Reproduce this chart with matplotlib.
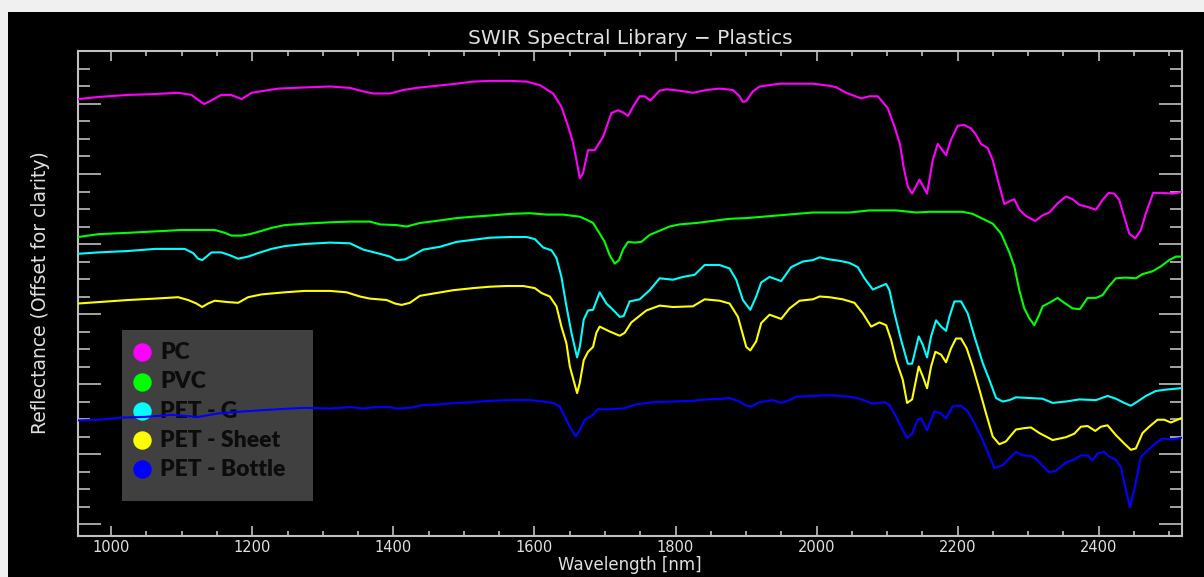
import numpy as np
import matplotlib.pyplot as plt
from matplotlib.patches import Rectangle
from matplotlib.ticker import MultipleLocator

# spectra (wavelength nm, reflectance with offset)
pc_wl = [953.3, 981.6, 1024, 1057, 1095, 1114, 1123, 1132, 1142, 1156, 1170, 1185, 1199, 1218, 1237,
         1260, 1284, 1310, 1338.5, 1357.4, 1371.6, 1395.2, 1414.1, 1433, 1461.3, 1489.6, 1513.2,
         1536.8, 1565.2, 1588.8, 1607.7, 1626.5, 1638.3, 1647.8, 1654.9, 1659.6, 1664.3, 1668.9,
         1676, 1685.4, 1697.3, 1709.1, 1718.5, 1725.6, 1732.7, 1739.7, 1749.2, 1756.3, 1764.3,
         1777.5, 1787, 1805.8, 1824.7, 1843.6, 1862.5, 1881.4, 1890.8, 1895.5, 1900.3, 1909.7,
         1919.2, 1947.5, 1971.1, 1994.7, 2018.3, 2027.7, 2041.9, 2063.2, 2075, 2086.8, 2100.9,
         2110.4, 2118.4, 2123.1, 2129.3, 2135.4, 2145.8, 2156.6, 2164.7, 2171.7, 2183.5, 2190.6,
         2200.1, 2209.5, 2219, 2226, 2233.1, 2242.6, 2249.7, 2256.7, 2266.2, 2273.3, 2280.3,
         2287.4, 2296.8, 2310, 2320.4, 2329.9, 2341.7, 2353.5, 2362.9, 2372.4, 2384.2, 2396,
         2405.4, 2413.9, 2421.9, 2429, 2436.1, 2443.2, 2451.7, 2459.7, 2466.8, 2477.2, 2490.4,
         2504.5, 2516.4]
pc_val = [60.7, 61.0, 61.3, 61.4, 61.6, 61.3, 60.6, 60.0, 60.5, 61.3, 61.3, 60.7, 61.6, 61.9, 62.2,
          62.3, 62.4, 62.5, 62.3, 61.8, 61.5, 61.5, 62.0, 62.3, 62.6, 62.9, 63.2,
          63.3, 63.3, 63.2, 62.7, 61.5, 59.6, 56.8, 54.4, 52.0, 49.4, 50.1,
          53.4, 53.4, 55.3, 58.7, 59.1, 58.8, 58.3, 59.6, 61.1, 61.1, 60.5,
          61.9, 62.1, 61.9, 61.6, 62.0, 62.2, 62.0, 61.1, 60.3, 60.4, 61.8,
          62.5, 62.9, 62.9, 62.9, 62.6, 62.4, 61.6, 60.8, 61.1, 61.1, 59.4,
          56.8, 54.2, 51.1, 48.2, 47.2, 49.2, 47.2, 52.0, 54.3, 52.7, 54.9,
          56.9, 57.0, 56.5, 55.6, 54.3, 53.7, 52.0, 49.2, 45.7, 46.1, 46.4,
          44.9, 44.0, 43.3, 44.1, 44.5, 45.8, 46.8, 46.4, 45.6, 45.3, 44.9,
          46.3, 47.3, 47.2, 46.3, 43.9, 41.5, 40.8, 42.0, 44.4, 47.3, 47.3,
          47.2, 47.4]

pvc_wl = [953.3, 981.6, 1024.1, 1061.9, 1099.7, 1146.9, 1161.1, 1170.5, 1184.7, 1196.5, 1210.6,
          1227.2, 1246, 1274.4, 1310.2, 1338.5, 1366.9, 1381, 1404.6, 1418.8, 1437.7, 1461.3,
          1489.6, 1513.2, 1541.5, 1565.2, 1593.5, 1617.1, 1640.7, 1664.2, 1673.6, 1683.1, 1692.5,
          1699.6, 1706.7, 1713.8, 1719.9, 1725.6, 1732.7, 1742.1, 1751.5, 1763.4, 1777.5, 1791.7,
          1805.8, 1829.5, 1853.1, 1876.7, 1900.3, 1923.9, 1947.5, 1971.1, 1994.7, 2018.3, 2046.6,
          2075, 2112.7, 2141.1, 2160, 2178.8, 2207.2, 2221.3, 2235.5, 2249.7, 2261.5, 2273.3,
          2280.3, 2287.4, 2294.4, 2301.5, 2308.6, 2315.7, 2320.4, 2329.9, 2341.7, 2351.1, 2362.9,
          2373.3, 2384.2, 2396, 2405.4, 2413.9, 2424.3, 2438.5, 2452.6, 2462.1, 2476.2, 2488,
          2499.8, 2509.3, 2516.4]
pvc_val = [41.0, 41.4, 41.6, 41.8, 42.0, 42.0, 41.6, 41.2, 41.2, 41.4, 41.8,
           42.3, 42.7, 42.9, 43.1, 43.2, 43.2, 42.8, 42.7, 42.5, 43.0, 43.3,
           43.7, 43.9, 44.1, 44.3, 44.4, 44.2, 44.2, 43.9, 43.5, 43.0, 41.5,
           40.3, 38.4, 37.2, 37.7, 39.2, 40.3, 40.2, 40.3, 41.3, 41.9, 42.5,
           42.8, 43.0, 43.3, 43.6, 43.7, 43.9, 44.1, 44.3, 44.5, 44.5, 44.5,
           44.8, 44.8, 44.5, 44.6, 44.6, 44.6, 44.3, 43.6, 42.9, 41.5, 38.8,
           36.8, 33.4, 30.8, 29.4, 28.4, 29.9, 31.1, 31.6, 32.3, 31.6, 30.8,
           30.7, 32.3, 32.3, 32.7, 33.9, 35.1, 35.2, 35.1, 35.7, 36.1, 36.8,
           37.7, 38.2, 38.2]

petg_wl = [953.3, 981.6, 1024.1, 1061.9, 1104.4, 1116.2, 1123.3, 1129, 1135.1, 1142.2, 1156.3,
           1168.1, 1180, 1194.1, 1208.3, 1227.2, 1246, 1274.4, 1310.2, 1338.5, 1357.4, 1381,
           1395.2, 1404.6, 1416.4, 1428.2, 1442.4, 1466, 1489.6, 1513.2, 1536.8, 1565.2, 1588.8,
           1600.6, 1612.4, 1624.2, 1631.3, 1638.3, 1645.4, 1652.5, 1660.5, 1664.3, 1669.9, 1676,
           1683.1, 1692.5, 1702, 1711.4, 1720.9, 1726.5, 1735, 1749.2, 1763.4, 1777.5, 1796.4,
           1810.6, 1827.1, 1841.3, 1862.5, 1876.7, 1886.1, 1895.5, 1906, 1914.4, 1921.5, 1933.3,
           1949.8, 1964, 1980.5, 1994.7, 2004.2, 2018.3, 2032.5, 2046.6, 2058.4, 2067.9, 2079.7,
           2089.1, 2098.6, 2103.3, 2110.4, 2119.8, 2129.3, 2135.4, 2144.8, 2150.5, 2156.6, 2162.3,
           2169.4, 2176.5, 2183.5, 2188.3, 2195.4, 2204.8, 2214.2, 2223.7, 2235.5, 2244.9, 2254.4,
           2263.8, 2273.3, 2282.6, 2301.5, 2320.4, 2334.6, 2353.5, 2372.4, 2396, 2412.5, 2424.3,
           2436.1, 2445.5, 2455, 2466.8, 2480.9, 2495.1, 2516.4]
petg_val = [38.6, 38.8, 39.0, 39.3, 39.3, 38.7, 37.9, 37.7, 38.2, 38.8, 38.8,
            38.4, 37.9, 38.2, 38.7, 39.3, 39.7, 40.0, 40.2, 40.1, 39.2, 38.6,
            38.2, 37.7, 37.8, 38.4, 39.2, 39.6, 40.3, 40.6, 40.9, 41.0, 41.0,
            40.7, 39.5, 39.1, 38.0, 35.3, 31.1, 27.3, 23.8, 25.3, 29.2, 30.5,
            30.6, 33.1, 31.5, 30.6, 29.6, 29.7, 31.8, 32.1, 33.4, 35.1, 34.9,
            35.3, 35.6, 37.0, 37.0, 36.5, 34.9, 32.0, 30.6, 32.5, 34.5, 35.3,
            34.7, 36.7, 37.5, 37.7, 38.1, 37.8, 37.6, 37.3, 36.7, 35.1, 33.5,
            33.9, 34.3, 33.4, 30.1, 26.3, 22.9, 22.9, 26.8, 25.6, 23.8, 26.8,
            29.1, 28.2, 27.6, 29.6, 31.8, 31.8, 30.1, 26.8, 23.0, 20.6, 18.0,
            17.5, 17.7, 18.1, 18.0, 17.9, 17.3, 17.5, 17.8, 17.7, 18.3, 17.9,
            17.3, 16.9, 17.5, 18.3, 19.0, 19.2, 19.4]

sheet_wl = [953.3, 981.6, 1024.1, 1061.9, 1095, 1109.1, 1120.9, 1129, 1137.4, 1146.9, 1165.8,
            1180, 1194.1, 1213, 1246, 1274.4, 1310.2, 1333.8, 1352.7, 1366.9, 1390.5, 1402.3,
            1411.7, 1423.5, 1437.7, 1461.3, 1484.9, 1513.2, 1536.8, 1560.4, 1584.1, 1600.6, 1610,
            1621.8, 1631.3, 1638.3, 1645.4, 1650.2, 1660.5, 1664.2, 1669.9, 1676, 1683.1, 1687.8,
            1692.5, 1706.7, 1720.9, 1727.9, 1737.4, 1758.6, 1777.5, 1796.4, 1824.7, 1841.3, 1862.5,
            1876.7, 1888.5, 1900.3, 1906, 1914.4, 1921.5, 1933.3, 1949.8, 1961.7, 1975.8, 1994.7,
            2004.2, 2018.3, 2037.2, 2053.7, 2065.5, 2077.3, 2089.1, 2098.6, 2105.7, 2112.7, 2122.2,
            2128.3, 2135.4, 2144.8, 2150.5, 2156.6, 2162.3, 2168.4, 2176.5, 2183.5, 2190.6, 2197.7,
            2204.8, 2212.8, 2221.3, 2230.8, 2240.2, 2249.7, 2259.1, 2268.5, 2273.3, 2282.6, 2294.4,
            2303.9, 2315.7, 2334.6, 2353.5, 2365.3, 2374.7, 2384.2, 2395, 2403, 2412.5, 2424.3,
            2436.1, 2445.5, 2452.6, 2462.1, 2471.5, 2483.3, 2492.8, 2502.2, 2516.4]
sheet_val = [31.5, 31.7, 32.0, 32.2, 32.4, 32.0, 31.5, 31.0, 31.5, 31.9, 31.7,
             31.6, 32.4, 32.8, 33.1, 33.3, 33.3, 33.1, 32.5, 32.2, 32.0, 31.5,
             31.3, 31.6, 32.6, 33.0, 33.4, 33.7, 33.9, 34.0, 34.0, 33.7, 33.0,
             32.5, 31.1, 28.2, 25.8, 22.5, 18.7, 20.1, 23.4, 24.6, 25.3, 27.3,
             28.2, 27.5, 26.9, 27.3, 28.8, 30.5, 31.2, 31.0, 31.1, 32.1, 31.9,
             31.5, 29.6, 25.3, 24.8, 26.1, 28.7, 29.9, 29.3, 30.8, 31.9, 32.1,
             32.5, 32.4, 32.1, 31.6, 30.1, 28.2, 28.8, 28.4, 26.3, 23.4, 20.6,
             17.3, 17.8, 22.5, 21.1, 19.4, 22.5, 24.6, 24.2, 23.1, 25.1, 26.5,
             26.5, 25.1, 22.5, 19.2, 15.8, 12.5, 11.4, 11.8, 12.4, 13.5, 13.7,
             13.8, 13.0, 12.0, 12.4, 12.9, 13.9, 14.0, 13.3, 13.9, 14.1, 12.7,
             11.5, 10.6, 10.8, 13.0, 13.9, 14.9, 14.9, 14.5, 15.1]

bottle_wl = [953.3, 981.6, 1014.7, 1047.7, 1085.5, 1123.3, 1151.6, 1189.4, 1236.6, 1274.4, 1310.2,
             1338.5, 1357.4, 1371.6, 1395.2, 1404.6, 1423.5, 1442.4, 1466, 1489.6, 1513.2, 1536.8,
             1565.2, 1593.5, 1612.4, 1626.5, 1636, 1643.1, 1650.2, 1658.6, 1664.2, 1671.3, 1680.7,
             1690.2, 1706.7, 1725.6, 1744.5, 1768.1, 1796.4, 1824.7, 1843.6, 1867.2, 1876.7, 1890.8,
             1900.3, 1907.4, 1919.2, 1938.1, 1949.8, 1964, 1971.1, 1994.7, 2018.3, 2046.6, 2060.8,
             2079.7, 2096.2, 2103.3, 2112.7, 2122.2, 2128.3, 2135.4, 2143.4, 2148.1, 2156.6, 2167,
             2176.5, 2183.5, 2193, 2204.8, 2214.2, 2223.7, 2233.1, 2242.6, 2252, 2263.8, 2273.3,
             2282.6, 2292.1, 2303.9, 2311, 2320.4, 2329.9, 2339.3, 2353.5, 2365.3, 2374.7, 2384.2,
             2391.2, 2398.3, 2407.8, 2414.9, 2424.3, 2431.4, 2437.5, 2444.1, 2450.3, 2459.7, 2471.5,
             2481, 2490.4, 2504.5, 2516.4]
bottle_val = [14.8, 14.9, 15.2, 15.3, 15.6, 15.3, 15.8, 16.1, 16.4, 16.6, 16.5,
              16.7, 16.5, 16.7, 16.7, 16.5, 16.6, 17.0, 17.1, 17.3, 17.4, 17.6,
              17.7, 17.7, 17.5, 17.3, 16.8, 15.3, 13.9, 12.5, 13.4, 14.9, 15.4,
              16.4, 16.4, 16.5, 17.1, 17.4, 17.5, 17.6, 17.8, 17.9, 18.0, 17.5,
              16.9, 16.8, 17.4, 17.7, 17.3, 17.8, 18.2, 18.3, 18.4, 18.2, 17.9,
              17.2, 17.4, 17.0, 15.3, 13.4, 12.3, 12.9, 14.9, 15.1, 13.4, 16.1,
              15.8, 15.1, 16.8, 16.9, 16.1, 14.4, 12.5, 10.3, 8.0, 8.4, 9.4,
              10.3, 9.8, 9.7, 9.3, 8.3, 7.4, 7.6, 8.8, 9.2, 9.8, 9.8,
              9.1, 10.1, 10.3, 9.6, 9.2, 8.1, 5.3, 2.4, 4.9, 9.6, 10.7,
              11.6, 12.2, 12.1, 12.3]

labels = ['PC', 'PVC', 'PET - G', 'PET - Sheet', 'PET - Bottle']
colors = ['#ff00ff', '#00ff00', '#00ffff', '#ffff00', '#0000ff']
series = [(pc_wl, pc_val), (pvc_wl, pvc_val), (petg_wl, petg_val),
          (sheet_wl, sheet_val), (bottle_wl, bottle_val)]

fig = plt.figure(figsize=(12.04, 5.77), dpi=100, facecolor='#f0f0f0')
fig.patches.append(Rectangle((8 / 1204, 0), 1 - 8 / 1204, 1 - 12 / 577,
                             transform=fig.transFigure, facecolor='black', edgecolor='none',
                             zorder=-10))

ax = fig.add_axes([78 / 1204, 1 - 536 / 577, 1104 / 1204, 485 / 577])
ax.set_facecolor('black')

for (wl, val), c in zip(series, colors):
    ax.plot(wl, val, color=c, lw=1.5, zorder=3)

ax.set_xlim(953, 2518)
ax.set_ylim(-1.71, 67.57)
ax.xaxis.set_major_locator(MultipleLocator(200))
ax.xaxis.set_minor_locator(MultipleLocator(50))
ax.yaxis.set_major_locator(MultipleLocator(10))
ax.yaxis.set_minor_locator(MultipleLocator(2.5))
ax.set_yticklabels([])

grey = '#c0c0c0'
for s in ax.spines.values():
    s.set_color(grey)
    s.set_linewidth(1.5)
ax.tick_params(axis='x', which='major', direction='in', top=True, length=7.5, width=1.2,
               color=grey, labelcolor='#e0e0e0', labelsize=10.5, pad=3)
ax.tick_params(axis='x', which='minor', direction='in', top=True, length=3.8, width=1.2, color=grey)
ax.tick_params(axis='y', which='major', direction='in', right=True, length=16.5, width=1.2,
               color=grey, labelleft=False)
ax.tick_params(axis='y', which='minor', direction='in', right=True, length=8.6, width=1.2, color=grey)

ax.set_title('SWIR Spectral Library \u2212 Plastics', color='#e0e0e0', fontsize=14.5, y=1.0,
             pad=5)
ax.set_xlabel('Wavelength [nm]', color='#e0e0e0', fontsize=12)
ax.xaxis.set_label_coords(0.5, -0.06)
ax.xaxis.label.set_va('center')
ax.set_ylabel('Reflectance (Offset for clarity)', color='#e0e0e0', fontsize=13.5)
ax.yaxis.set_label_coords(-0.0344, 0.501)
ax.yaxis.label.set_va('center')

# legend panel, sits under the spectra
ax.add_patch(Rectangle((0.0399, 0.0722), 0.173, 0.3526, transform=ax.transAxes,
                       facecolor='#404040', edgecolor='none', zorder=1))
rows = [0.3788, 0.3182, 0.2577, 0.1979, 0.1375]
for lab, c, yy in zip(labels, colors, rows):
    ax.scatter([0.058], [yy], s=150, color=c, transform=ax.transAxes, zorder=2, clip_on=False)
    ax.text(0.0743, yy, lab, transform=ax.transAxes, color='#0c0c0c', fontsize=16.5,
            fontweight='heavy', family='Lato', va='center', ha='left', zorder=2)

fig.savefig('out.png', dpi=100, facecolor=fig.get_facecolor())
